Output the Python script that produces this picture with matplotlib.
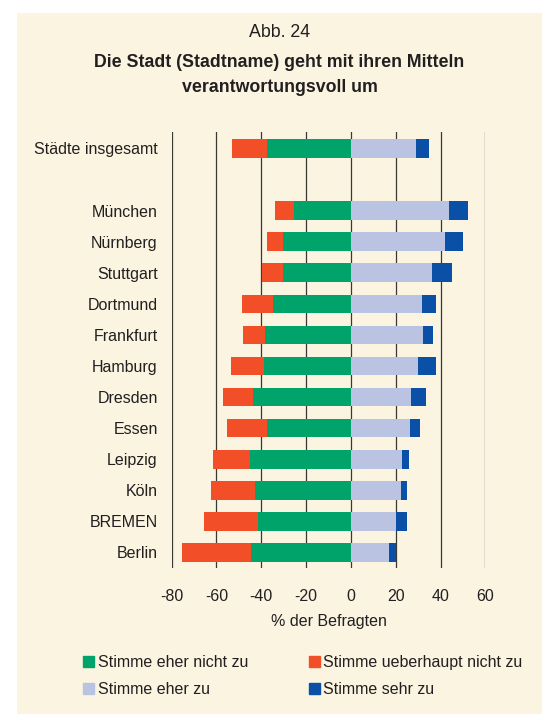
import matplotlib.pyplot as plt
from matplotlib.patches import Rectangle, Patch
import numpy as np

plt.rcParams['font.family'] = ['Liberation Sans', 'DejaVu Sans']

cities = ["Städte insgesamt", "", "München", "Nürnberg", "Stuttgart", "Dortmund",
          "Frankfurt", "Hamburg", "Dresden", "Essen", "Leipzig", "Köln",
          "BREMEN", "Berlin"]
# shares in percent; the empty row is the spacer under the total
eher_nicht = [37.6, 0, 25.6, 30.1, 30.1, 34.6, 38.2, 39.0, 43.8, 37.6, 44.9, 42.6, 41.3, 44.4]
gar_nicht = [15.3, 0, 8.1, 7.2, 9.8, 13.8, 9.8, 14.4, 13.1, 17.5, 16.5, 19.7, 24.1, 30.9]
eher_zu = [28.9, 0, 43.7, 41.9, 36.1, 31.6, 32.0, 29.8, 26.7, 26.2, 22.7, 22.2, 20.0, 16.8]
sehr_zu = [5.8, 0, 8.5, 8.0, 8.9, 6.3, 4.5, 8.1, 6.7, 4.5, 3.1, 2.7, 4.9, 3.2]
xticks = [-80, -60, -40, -20, 0, 20, 40, 60]

c_green = "#00A36A"
c_red = "#F24E28"
c_light = "#BAC4E2"
c_dark = "#0A50A6"
txt = "#231F20"
bg = "#FAF4E1"

W, H = 542, 714
fig = plt.figure(figsize=(W / 100, H / 100), dpi=100)
fig.patch.set_facecolor("white")
fig.patches.append(Rectangle((17 / W, 0), 1 - 17 / W, 1 - 13 / H, transform=fig.transFigure,
                             facecolor=bg, edgecolor="none", zorder=-10))

ax = fig.add_axes([171.7 / W, 1 - 568 / H, (485.3 - 171.7) / W, 436 / H])
ax.set_facecolor("none")

y = np.arange(len(cities))
en = np.array(eher_nicht)
gn = np.array(gar_nicht)
ez = np.array(eher_zu)
sz = np.array(sehr_zu)
h = 0.6
ax.barh(y, -en, left=0, height=h, color=c_green, zorder=3)
ax.barh(y, -gn, left=-en, height=h, color=c_red, zorder=3)
ax.barh(y, ez, left=0, height=h, color=c_light, zorder=3)
ax.barh(y, sz, left=ez, height=h, color=c_dark, zorder=3)

for t in xticks:
    ax.axvline(t, color="#3a3833", lw=0.9, zorder=1)

ax.set_xlim(-80, 60)
ax.set_ylim(13.5, -0.53)
ax.set_xticks(xticks)
ax.set_xticklabels([str(t) for t in xticks])
ax.set_yticks(y)
ax.set_yticklabels(cities)
ax.tick_params(length=0, labelsize=11.5, labelcolor=txt)
ax.tick_params(axis="x", pad=15)
ax.tick_params(axis="y", pad=10)
for s in ax.spines.values():
    s.set_visible(False)
ax.set_xlabel("% der Befragten", fontsize=11.5, color=txt, labelpad=7)

cx = 0.5 * (17 + W) / W
fig.text(cx, 1 - 36.7 / H, "Abb. 24", ha="center", va="baseline",
         fontsize=12.8, color=txt)
fig.text(cx, 1 - 66.7 / H, "Die Stadt (Stadtname) geht mit ihren Mitteln",
         ha="center", va="baseline", fontsize=12.8, fontweight="bold", color=txt)
fig.text(cx, 1 - 91.7 / H, "verantwortungsvoll um",
         ha="center", va="baseline", fontsize=12.8, fontweight="bold", color=txt)

handles = [Patch(color=c_green, label="Stimme eher nicht zu"),
           Patch(color=c_light, label="Stimme eher zu"),
           Patch(color=c_red, label="Stimme ueberhaupt nicht zu"),
           Patch(color=c_dark, label="Stimme sehr zu")]
fig.legend(handles=handles, ncol=2, loc="upper left", bbox_to_anchor=(83 / W, 1 - 655 / H),
           frameon=False, fontsize=11.5, handlelength=0.69, handleheight=0.69,
           handletextpad=0.22, columnspacing=3.82, labelspacing=0.75,
           borderpad=0, borderaxespad=0, labelcolor=txt)

fig.savefig("out.png", dpi=100, facecolor="white")
